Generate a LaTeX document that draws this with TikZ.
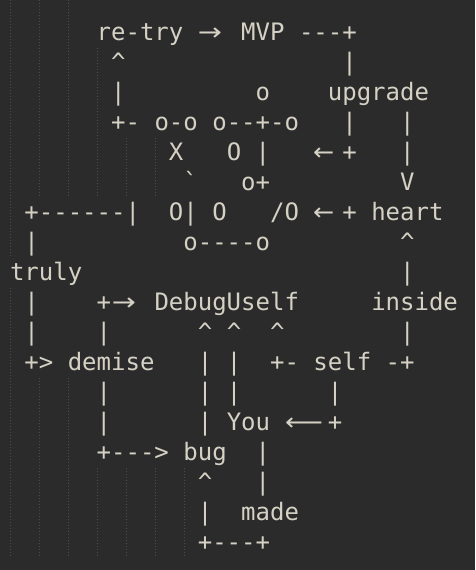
\documentclass[tikz,border=0pt]{standalone}
\usepackage{fontspec}
\setmonofont{DejaVu Sans Mono}
\newfontfamily\arrowfont{DejaVu Sans}
\usepackage{graphicx}
\definecolor{bg}{HTML}{2B2B2B}
\definecolor{fg}{HTML}{D5D2C5}
\definecolor{guide}{HTML}{4C4C4C}
\newcommand\TX[4]{\node[txt] (#1) at ({10+14.45*#3},{529.5-30*#2}) {#4};}
\newcommand\AR[5]{\node[txt,anchor=base] (#1) at ({10+14.45*#3},{529.5-30*#2}) {\arrowfont\scalebox{#5}[1]{#4}};}
\newcommand\GD[3]{\draw[guideline] ({10.5+14.45*#1},{552-30*#2}) -- ({10.5+14.45*#1},{522-30*#3});}
\begin{document}
\begin{tikzpicture}[x=1pt,y=1pt,
  txt/.style={text=fg, font=\ttfamily\fontsize{24}{30}\selectfont, inner sep=0pt, outer sep=0pt, anchor=base west},
  guideline/.style={draw=guide, line width=0.7pt, dash pattern=on 1pt off 2pt}]
\fill[bg] (0,0) rectangle (475,570);
\useasboundingbox (0,0) rectangle (475,570);
% indentation guides
\draw[guideline] (10.5,570) -- (10.5,522);
\GD{0}{1}{7}
\GD{0}{9}{17}
\draw[guideline] ({10.5+14.45*2},570) -- ({10.5+14.45*2},522);
\GD{2}{1}{5}
\GD{2}{12}{17}
\draw[guideline] ({10.5+14.45*4},570) -- ({10.5+14.45*4},522);
\GD{4}{1}{5}
\GD{4}{12}{17}
\GD{6}{1}{5}
\GD{6}{15}{17}
\GD{8}{4}{5}
\GD{8}{15}{17}
\GD{10}{4}{5}
\GD{10}{15}{17}
\GD{12}{15}{17}
% row 0
\TX{r0a}{0}{6}{re-try}
\AR{r0b}{0}{13.84}{→}{1.2}
\TX{r0c}{0}{16}{MVP}
\TX{r0d}{0}{20}{---+}
% row 1
\TX{r1a}{1}{7}{\textasciicircum}
\TX{r1b}{1}{23}{|}
% row 2
\TX{r2a}{2}{7}{|}
\TX{r2b}{2}{17}{o}
\TX{r2c}{2}{22}{upgrade}
% row 3
\TX{r3a}{3}{7}{+-}
\TX{r3b}{3}{10}{o-o}
\TX{r3c}{3}{14}{o--+-o}
\TX{r3d}{3}{23}{|}
\TX{r3e}{3}{27}{|}
% row 4
\TX{r4a}{4}{11}{X}
\TX{r4b}{4}{15}{O}
\TX{r4c}{4}{17}{|}
\AR{r4d}{4}{21.7}{←}{1.05}
\TX{r4e}{4}{23}{+}
\TX{r4f}{4}{27}{|}
% row 5
\TX{r5a}{5}{12}{`}
\TX{r5b}{5}{16}{o+}
\TX{r5c}{5}{27}{V}
% row 6
\TX{r6a}{6}{1}{+------|}
\TX{r6b}{6}{11}{O|}
\TX{r6c}{6}{14}{O}
\TX{r6d}{6}{18}{/O}
\AR{r6e}{6}{21.7}{←}{1.05}
\TX{r6f}{6}{23}{+}
\TX{r6g}{6}{25}{heart}
% row 7
\TX{r7a}{7}{1}{|}
\TX{r7b}{7}{12}{o----o}
\TX{r7c}{7}{27}{\textasciicircum}
% row 8
\TX{r8a}{8}{0}{truly}
\TX{r8b}{8}{27}{|}
% row 9
\TX{r9a}{9}{1}{|}
\TX{r9b}{9}{6}{+}
\AR{r9c}{9}{7.89}{→}{1.2}
\TX{r9d}{9}{10}{DebugUself}
\TX{r9e}{9}{25}{inside}
% row 10
\TX{r10a}{10}{1}{|}
\TX{r10b}{10}{6}{|}
\TX{r10c}{10}{13}{\textasciicircum}
\TX{r10d}{10}{15}{\textasciicircum}
\TX{r10e}{10}{18}{\textasciicircum}
\TX{r10f}{10}{27}{|}
% row 11
\TX{r11a}{11}{1}{+>}
\TX{r11b}{11}{4}{demise}
\TX{r11c}{11}{13}{|}
\TX{r11d}{11}{15}{|}
\TX{r11e}{11}{18}{+-}
\TX{r11f}{11}{21}{self}
\TX{r11g}{11}{26}{-+}
% row 12
\TX{r12a}{12}{6}{|}
\TX{r12b}{12}{13}{|}
\TX{r12c}{12}{15}{|}
\TX{r12d}{12}{22}{|}
% row 13
\TX{r13a}{13}{6}{|}
\TX{r13b}{13}{13}{|}
\TX{r13c}{13}{15}{You}
\AR{r13d}{13}{20.35}{⟵}{1.1}
\TX{r13e}{13}{22}{+}
% row 14
\TX{r14a}{14}{6}{+--->}
\TX{r14b}{14}{12}{bug}
\TX{r14c}{14}{17}{|}
% row 15
\TX{r15a}{15}{13}{\textasciicircum}
\TX{r15b}{15}{17}{|}
% row 16
\TX{r16a}{16}{13}{|}
\TX{r16b}{16}{16}{made}
% row 17
\TX{r17a}{17}{13}{+---+}
\end{tikzpicture}
\end{document}
